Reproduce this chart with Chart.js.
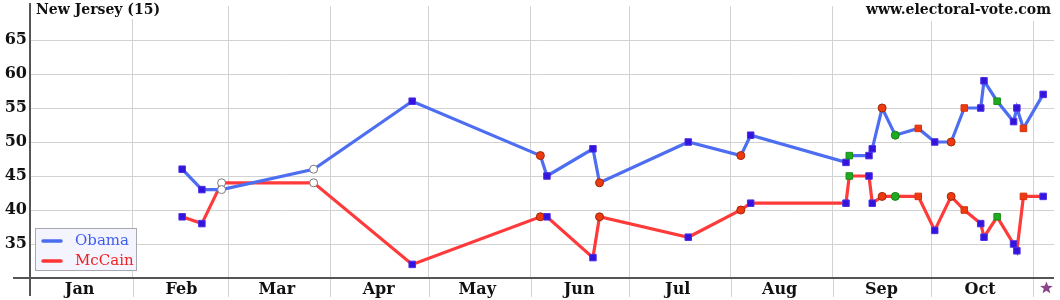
<!DOCTYPE html>
<html><head><meta charset="utf-8">
<script src="https://cdn.jsdelivr.net/npm/chart.js@4.4.1/dist/chart.umd.min.js"></script>
<style>html,body{margin:0;padding:0;background:#fff}#wrap{width:1060px;height:300px;position:relative}</style>
</head><body><div id="wrap"><canvas id="c"></canvas></div>
<script>
// ---- data ----
const chartTitle = 'New Jersey (15)';
const siteLabel = 'www.electoral-vote.com';
const seriesNames = ['Obama', 'McCain'];
const pollDates = ['2008-02-16','2008-02-22','2008-02-28','2008-03-27','2008-04-26','2008-06-04','2008-06-06','2008-06-20','2008-06-22','2008-07-19','2008-08-04','2008-08-07','2008-09-05','2008-09-06','2008-09-12','2008-09-13','2008-09-16','2008-09-20','2008-09-27','2008-10-02','2008-10-07','2008-10-11','2008-10-16','2008-10-17','2008-10-21','2008-10-26','2008-10-27','2008-10-29','2008-11-04'];
const obama  = [46,43,43,46,56,48,45,49,44,50,48,51,47,48,48,49,55,51,52,50,50,55,55,59,56,53,55,52,57];
const mccain = [39,38,44,44,32,39,39,33,39,36,40,41,41,45,45,41,42,42,42,37,42,40,38,36,39,35,34,42,42];
const pollKind = ['bs','bs','oc','oc','bs','rc','bs','bs','rc','bs','rc','bs','bs','gs','bs','bs','rc','gc','rs','bs','rc','rs','bs','bs','gs','bs','bs','rs','bs'];
const monthLabels = ['Jan','Feb','Mar','Apr','May','Jun','Jul','Aug','Sep','Oct'];
const yTickValues = [35,40,45,50,55,60,65];
const electionDate = '2008-11-04';

// ---- helpers ----
const dayOf = s => (Date.UTC(+s.slice(0,4), +s.slice(5,7)-1, +s.slice(8,10)) - Date.UTC(2008,0,1)) / 864e5;
const monthStarts = [];
for (let m = 1; m <= 11; m++) monthStarts.push(dayOf('2008-' + String(m).padStart(2,'0') + '-01'));
const gridDays = monthStarts.slice(1);              // Feb 1 .. Nov 1
const labelDays = monthLabels.map((_, i) => monthStarts[i] + 14.8);
const tickList = [...gridDays.map(v => ({value: v, kind: 'g'})), ...labelDays.map((v, i) => ({value: v, kind: 'l', text: monthLabels[i]}))].sort((a, b) => a.value - b.value);

const kindStyle = {
  bs: {ps: 'rect',   r: 4.6, bg: '#3414dc', bd: '#4a30e8'},
  rs: {ps: 'rect',   r: 4.6, bg: '#ee3a10', bd: '#d83008'},
  gs: {ps: 'rect',   r: 4.6, bg: '#20aa20', bd: '#189018'},
  rc: {ps: 'circle', r: 4.0, bg: '#ee3a10', bd: '#a02808'},
  gc: {ps: 'circle', r: 4.0, bg: '#20aa20', bd: '#108010'},
  oc: {ps: 'circle', r: 4.0, bg: '#ffffff', bd: '#777777'}
};
const st = (ctx, k) => kindStyle[pollKind[ctx.dataIndex]][k];

const mk = (vals) => pollDates.map((d, i) => ({x: dayOf(d), y: vals[i]}));

const SERIF = '"DejaVu Serif", serif';
const GRID = '#d2d2d2';

const deco = {
  id: 'deco',
  beforeDatasetsDraw(chart) {
    const {ctx, chartArea: a, scales: {x}} = chart;
    ctx.save();
    ctx.strokeStyle = GRID; ctx.lineWidth = 1;
    gridDays.forEach(d => {
      const px = Math.round(x.getPixelForValue(d)) + 0.5;
      ctx.beginPath(); ctx.moveTo(px, a.bottom); ctx.lineTo(px, a.bottom + 19); ctx.stroke();
    });
    ctx.strokeStyle = '#555'; ctx.lineWidth = 2;
    ctx.beginPath(); ctx.moveTo(13, a.bottom); ctx.lineTo(a.right, a.bottom); ctx.stroke();
    ctx.beginPath(); ctx.moveTo(a.left - 1, 3); ctx.lineTo(a.left - 1, a.bottom + 18); ctx.stroke();
    ctx.restore();
  },
  afterDraw(chart) {
    const {ctx, chartArea: a, scales: {x}} = chart;
    ctx.save();
    ctx.font = 'bold 14px ' + SERIF;
    ctx.textBaseline = 'middle';
    // title
    let w = ctx.measureText(chartTitle).width;
    ctx.fillStyle = '#fff'; ctx.fillRect(33, 0, w + 6, 19);
    ctx.fillStyle = '#111'; ctx.textAlign = 'left'; ctx.fillText(chartTitle, 36, 10);
    // site
    w = ctx.measureText(siteLabel).width;
    ctx.fillStyle = '#fff'; ctx.fillRect(a.right - 3 - w - 3, 0, w + 6, 21);
    ctx.fillStyle = '#111'; ctx.textAlign = 'right'; ctx.fillText(siteLabel, a.right - 3, 10);
    // legend
    const lx = 35.5, ly = 228.5, lw = 101, lh = 42;
    ctx.fillStyle = '#f4f4fe'; ctx.fillRect(lx, ly, lw, lh);
    ctx.strokeStyle = '#a8a8b0'; ctx.lineWidth = 1; ctx.strokeRect(lx, ly, lw, lh);
    const cols = ['#4a6cf0', '#ff3434'];
    const tcols = ['#3e5ef0', '#f02020'];
    ctx.lineCap = 'round'; ctx.lineWidth = 3.5;
    ctx.font = '15px ' + SERIF; ctx.textAlign = 'left';
    seriesNames.forEach((n, i) => {
      const yy = 241 + i * 20;
      ctx.strokeStyle = cols[i];
      ctx.beginPath(); ctx.moveTo(43, yy); ctx.lineTo(61, yy); ctx.stroke();
      ctx.fillStyle = tcols[i]; ctx.fillText(n, 75, yy);
    });
    // election day star
    const sx = x.getPixelForValue(dayOf(electionDate) + 1), sy = a.bottom + 10;
    ctx.fillStyle = '#8a4488';
    ctx.beginPath();
    for (let k = 0; k < 10; k++) {
      const r = k % 2 ? 2.8 : 6.6;
      const ang = -Math.PI / 2 + k * Math.PI / 5;
      const px = sx + r * Math.cos(ang), py = sy + r * Math.sin(ang);
      k ? ctx.lineTo(px, py) : ctx.moveTo(px, py);
    }
    ctx.closePath(); ctx.fill();
    ctx.restore();
  }
};

const pointOpts = {
  pointStyle: c => st(c, 'ps'),
  pointRadius: c => st(c, 'r'),
  pointHoverRadius: c => st(c, 'r'),
  pointBackgroundColor: c => st(c, 'bg'),
  pointBorderColor: c => st(c, 'bd'),
  pointBorderWidth: 1
};

new Chart(document.getElementById('c'), {
  type: 'line',
  data: {
    datasets: [
      Object.assign({label: seriesNames[0], data: mk(obama), borderColor: '#4e6ef2', borderWidth: 3.2, tension: 0, fill: false}, pointOpts),
      Object.assign({label: seriesNames[1], data: mk(mccain), borderColor: '#ff3a3a', borderWidth: 3.2, tension: 0, fill: false}, pointOpts)
    ]
  },
  options: {
    responsive: true, maintainAspectRatio: false, animation: false,
    layout: {padding: {top: 6, right: 6, left: 0, bottom: 0}},
    plugins: {legend: {display: false}, tooltip: {enabled: false}, title: {display: false}},
    scales: {
      x: {
        type: 'linear', min: 0, max: 311.3,
        afterBuildTicks: s => { s.ticks = tickList.map(t => ({value: t.value})); },
        afterFit: s => { s.height = 22; s.paddingLeft = 0; s.paddingRight = 0; },
        border: {display: false},
        grid: {drawTicks: false, color: c => (c.tick && tickList[c.index] && tickList[c.index].kind === 'g') ? GRID : 'rgba(0,0,0,0)'},
        ticks: {autoSkip: false, maxRotation: 0, padding: 2, color: '#111',
          font: {family: SERIF, size: 16, weight: 'bold'},
          callback: (v, i) => tickList[i].kind === 'l' ? tickList[i].text : ''}
      },
      y: {
        min: 30, max: 70,
        afterBuildTicks: s => { s.ticks = yTickValues.map(v => ({value: v})); },
        afterFit: s => { s.width = 31; s.paddingTop = 0; s.paddingBottom = 0; },
        border: {display: false},
        grid: {drawTicks: false, color: GRID},
        ticks: {padding: 4, color: '#111', font: {family: SERIF, size: 16, weight: 'bold'}}
      }
    }
  },
  plugins: [deco]
});
</script></body></html>
